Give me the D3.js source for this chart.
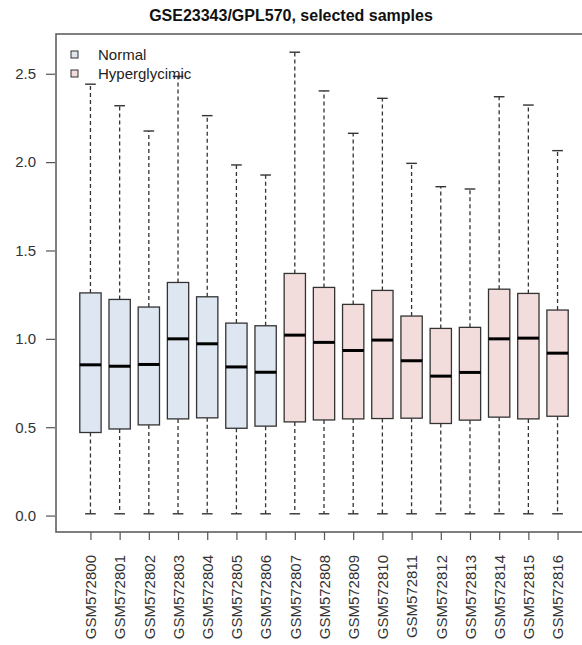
<!DOCTYPE html>
<html lang="en">
<head>
<meta charset="utf-8">
<title>GSE23343/GPL570 boxplot</title>
<script type="text/javascript" src="https://d3js.org/d3.v7.min.js"></script>
<style type="text/css">
  body { margin: 0; background: #fff; }
  svg text { font-family: "Liberation Sans", Arial, sans-serif; }
  .axis path, .axis line { stroke: #555; stroke-width: 1.2; fill: none; }
  .axis text { fill: #333; font-size: 15px; }
</style>
</head>
<body>
<script type="text/javascript">
// samples and their group (0 = Normal, 1 = Hyperglycimic)
var samples = ["GSM572800","GSM572801","GSM572802","GSM572803","GSM572804","GSM572805",
  "GSM572806","GSM572807","GSM572808","GSM572809","GSM572810","GSM572811","GSM572812",
  "GSM572813","GSM572814","GSM572815","GSM572816"];
var groups = [0,0,0,0,0,0,0,1,1,1,1,1,1,1,1,1,1];
var groupNames = ["Normal", "Hyperglycimic"];

// box statistics
var whiskLow = [0.01,0.01,0.01,0.01,0.01,0.01,0.01,0.01,0.01,0.01,0.01,0.01,0.01,0.01,0.01,0.01,0.01];
var q1 = [0.47,0.49,0.513,0.547,0.553,0.494,0.506,0.53,0.541,0.547,0.549,0.551,0.521,0.54,0.557,0.547,0.562];
var medians = [0.853,0.845,0.855,1.0,0.972,0.841,0.811,1.021,0.98,0.934,0.993,0.876,0.789,0.81,1.0,1.004,0.919];
var q3 = [1.26,1.223,1.18,1.319,1.238,1.089,1.074,1.37,1.291,1.195,1.274,1.129,1.059,1.065,1.281,1.257,1.163];
var whiskHigh = [2.441,2.319,2.176,2.485,2.263,1.984,1.927,2.622,2.403,2.163,2.361,1.993,1.861,1.848,2.37,2.323,2.065];

var yTicks = [0.0, 0.5, 1.0, 1.5, 2.0, 2.5];

var fills = ["#dde6f1", "#f3dddc"];

var w = 582, h = 645;
var plotLeft = 56, plotRight = 592, plotTop = 34, plotBottom = 532;

var svg = d3.select("body").append("svg").attr("width", w).attr("height", h);

var n = samples.length;
var xPad = 0.68; // R style 4% extension of 0.5..n+0.5
var xScale = d3.scaleLinear()
  .domain([0.5 - xPad, n + 0.5 + xPad])
  .range([plotLeft, plotRight]);
var yScale = d3.scaleLinear()
  .domain([-0.093, 2.725])
  .range([plotBottom, plotTop]);

var boxW = xScale(0.73) - xScale(0);
var capW = boxW * 0.5;

// title
svg.append("text")
  .attr("x", 291).attr("y", 21)
  .attr("text-anchor", "middle")
  .style("font-size", "16px").style("font-weight", "bold").style("fill", "#111")
  .text("GSE23343/GPL570, selected samples");

// boxes
var g = svg.selectAll("g.box")
  .data(samples)
  .enter()
  .append("g")
  .attr("class", "box");

g.append("line")
  .attr("x1", function(d, i){ return xScale(i + 1); })
  .attr("x2", function(d, i){ return xScale(i + 1); })
  .attr("y1", function(d, i){ return yScale(q3[i]); })
  .attr("y2", function(d, i){ return yScale(whiskHigh[i]); })
  .attr("stroke", "#333").attr("stroke-width", 1.3).attr("stroke-dasharray", "4,3");
g.append("line")
  .attr("x1", function(d, i){ return xScale(i + 1); })
  .attr("x2", function(d, i){ return xScale(i + 1); })
  .attr("y1", function(d, i){ return yScale(q1[i]); })
  .attr("y2", function(d, i){ return yScale(whiskLow[i]); })
  .attr("stroke", "#333").attr("stroke-width", 1.3).attr("stroke-dasharray", "4,3");

// caps
[whiskHigh, whiskLow].forEach(function(arr){
  g.append("line")
    .attr("x1", function(d, i){ return xScale(i + 1) - capW / 2; })
    .attr("x2", function(d, i){ return xScale(i + 1) + capW / 2; })
    .attr("y1", function(d, i){ return yScale(arr[i]); })
    .attr("y2", function(d, i){ return yScale(arr[i]); })
    .attr("stroke", "#333").attr("stroke-width", 1.4);
});

g.append("rect")
  .attr("x", function(d, i){ return xScale(i + 1) - boxW / 2; })
  .attr("y", function(d, i){ return yScale(q3[i]); })
  .attr("width", boxW)
  .attr("height", function(d, i){ return yScale(q1[i]) - yScale(q3[i]); })
  .attr("fill", function(d, i){ return fills[groups[i]]; })
  .attr("stroke", "#333").attr("stroke-width", 1.3);

g.append("line")
  .attr("x1", function(d, i){ return xScale(i + 1) - boxW / 2; })
  .attr("x2", function(d, i){ return xScale(i + 1) + boxW / 2; })
  .attr("y1", function(d, i){ return yScale(medians[i]); })
  .attr("y2", function(d, i){ return yScale(medians[i]); })
  .attr("stroke", "#000").attr("stroke-width", 3);

// axes
var yAxis = d3.axisLeft(yScale)
  .tickValues(yTicks)
  .tickFormat(d3.format(".1f"))
  .tickSize(9).tickPadding(10);
var yG = svg.append("g")
  .attr("class", "axis")
  .attr("transform", "translate(" + (plotLeft - 1) + ",0)")
  .call(yAxis);
yG.select(".domain").remove();

var xAxis = d3.axisBottom(xScale)
  .tickValues(d3.range(1, n + 1))
  .tickFormat(function(d){ return samples[d - 1]; })
  .tickSize(8);
var xG = svg.append("g")
  .attr("class", "axis")
  .attr("transform", "translate(0," + plotBottom + ")")
  .call(xAxis);
xG.select(".domain").remove();
xG.selectAll("text")
  .attr("transform", "rotate(-90)")
  .attr("text-anchor", "end")
  .attr("x", -23)
  .attr("y", 0)
  .attr("dy", "0.35em");

// plot frame (right side falls outside the picture)
svg.append("path")
  .attr("d", "M" + plotRight + "," + plotTop + "H" + plotLeft + "V" + plotBottom + "H" + plotRight)
  .attr("fill", "none").attr("stroke", "#555").attr("stroke-width", 1.5);

// legend
var leg = svg.selectAll("g.legend")
  .data(groupNames)
  .enter()
  .append("g")
  .attr("class", "legend")
  .attr("transform", function(d, i){ return "translate(71," + (51 + i * 19) + ")"; });
leg.append("rect")
  .attr("width", 7).attr("height", 7)
  .attr("fill", function(d, i){ return fills[i]; })
  .attr("stroke", "#333").attr("stroke-width", 1);
leg.append("text")
  .attr("x", 27).attr("y", 9)
  .style("font-size", "15px").style("fill", "#222")
  .text(function(d){ return d; });
</script>
</body>
</html>
